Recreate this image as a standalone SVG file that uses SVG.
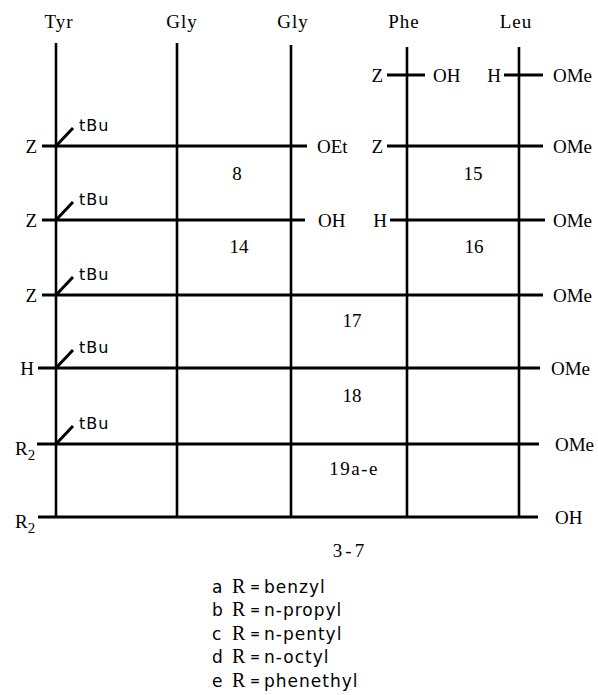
<svg xmlns="http://www.w3.org/2000/svg" width="598" height="695" viewBox="0 0 598 695">
<style>
.ln{stroke:#000;stroke-width:3;fill:none;stroke-linecap:butt}
.vl{stroke:#000;stroke-width:2.6;fill:none}
.sl{stroke:#000;stroke-width:3;fill:none}
.hd{font-family:"Liberation Serif","DejaVu Serif",serif;font-size:19px;letter-spacing:1px;fill:#000;text-anchor:middle}
.sr{font-family:"Liberation Serif","DejaVu Serif",serif;font-size:19px;fill:#000}
.num{font-family:"Liberation Serif","DejaVu Serif",serif;font-size:19px;fill:#000;text-anchor:middle}
.tb{font-family:"DejaVu Sans","Liberation Sans",sans-serif;font-size:16px;letter-spacing:1px;fill:#000}
.lg{font-family:"DejaVu Sans","Liberation Sans",sans-serif;font-size:17px;letter-spacing:1px;fill:#000}
.eq{font-family:"DejaVu Sans","Liberation Sans",sans-serif;font-size:12px;font-weight:bold;fill:#000}
.lr{font-family:"Liberation Serif","DejaVu Serif",serif;font-size:20px;fill:#000}
.end{text-anchor:end}
</style>
<g id="headers">
<text class="hd" x="59" y="28">Tyr</text>
<text class="hd" x="182" y="28">Gly</text>
<text class="hd" x="293" y="28">Gly</text>
<text class="hd" x="404" y="28">Phe</text>
<text class="hd" x="516" y="28">Leu</text>
</g>
<g id="connectors">
<line class="vl" x1="56" y1="43" x2="56" y2="518"/>
<line class="vl" x1="177" y1="43" x2="177" y2="518"/>
<line class="vl" x1="291" y1="45" x2="291" y2="518"/>
<line class="vl" x1="407" y1="47" x2="407" y2="518"/>
<line class="vl" x1="519" y1="47" x2="519" y2="518"/>
<line class="ln" x1="387" y1="75" x2="425" y2="75"/>
<line class="ln" x1="504" y1="75" x2="543" y2="75"/>
<line class="ln" x1="42" y1="146" x2="307" y2="146"/>
<line class="ln" x1="387" y1="146" x2="543" y2="146"/>
<line class="ln" x1="42" y1="220" x2="305" y2="220"/>
<line class="ln" x1="390" y1="220" x2="545" y2="220"/>
<line class="ln" x1="42" y1="295" x2="543" y2="295"/>
<line class="ln" x1="38" y1="368" x2="540" y2="368"/>
<line class="ln" x1="37" y1="444" x2="539" y2="444"/>
<line class="ln" x1="38" y1="517" x2="538" y2="517"/>
<line class="sl" x1="56" y1="146" x2="73" y2="128"/>
<line class="sl" x1="56" y1="220" x2="73" y2="202"/>
<line class="sl" x1="56" y1="295" x2="73" y2="277"/>
<line class="sl" x1="56" y1="368" x2="73" y2="350"/>
<line class="sl" x1="56" y1="444" x2="73" y2="426"/>
</g>
<g id="tbu">
<text class="tb" x="79" y="131">tBu</text>
<text class="tb" x="79" y="205">tBu</text>
<text class="tb" x="79" y="280">tBu</text>
<text class="tb" x="79" y="353">tBu</text>
<text class="tb" x="79" y="429">tBu</text>
</g>
<g id="left-labels">
<text class="sr end" x="37" y="153">Z</text>
<text class="sr end" x="37" y="227">Z</text>
<text class="sr end" x="37" y="302">Z</text>
<text class="sr end" x="34" y="375">H</text>
<text class="sr" x="15" y="455">R<tspan font-size="15" dy="5">2</tspan></text>
<text class="sr" x="15" y="528">R<tspan font-size="15" dy="5">2</tspan></text>
</g>
<g id="right-labels">
<text class="sr end" x="383" y="82">Z</text>
<text class="sr" x="433" y="82">OH</text>
<text class="sr end" x="501" y="82">H</text>
<text class="sr" x="553" y="82">OMe</text>
<text class="sr" x="317" y="153">OEt</text>
<text class="sr end" x="383" y="153">Z</text>
<text class="sr" x="553" y="153">OMe</text>
<text class="sr" x="318" y="227">OH</text>
<text class="sr end" x="387" y="227">H</text>
<text class="sr" x="553" y="227">OMe</text>
<text class="sr" x="553" y="302">OMe</text>
<text class="sr" x="551" y="375">OMe</text>
<text class="sr" x="555" y="451">OMe</text>
<text class="sr" x="555" y="524">OH</text>
</g>
<g id="compounds">
<text class="num" x="237" y="180">8</text>
<text class="num" x="473" y="180">15</text>
<text class="num" x="239" y="253">14</text>
<text class="num" x="474" y="253">16</text>
<text class="num" x="352" y="327">17</text>
<text class="num" x="352" y="402">18</text>
<text class="num" x="354" y="475" letter-spacing="1.5">19a-e</text>
<text class="num" x="350" y="557" letter-spacing="3">3-7</text>
</g>
<g id="legend">
<text class="lg" x="212" y="593">a</text><text class="lr" x="232" y="593">R</text><text class="eq" x="250" y="591">=</text><text class="lg" x="264" y="593">benzyl</text>
<text class="lg" x="212" y="616">b</text><text class="lr" x="232" y="616">R</text><text class="eq" x="250" y="614">=</text><text class="lg" x="264" y="616">n-propyl</text>
<text class="lg" x="212" y="640">c</text><text class="lr" x="232" y="640">R</text><text class="eq" x="250" y="638">=</text><text class="lg" x="264" y="640">n-pentyl</text>
<text class="lg" x="212" y="663">d</text><text class="lr" x="232" y="663">R</text><text class="eq" x="250" y="661">=</text><text class="lg" x="264" y="663">n-octyl</text>
<text class="lg" x="212" y="687">e</text><text class="lr" x="232" y="687">R</text><text class="eq" x="250" y="685">=</text><text class="lg" x="264" y="687">phenethyl</text>
</g>
</svg>
